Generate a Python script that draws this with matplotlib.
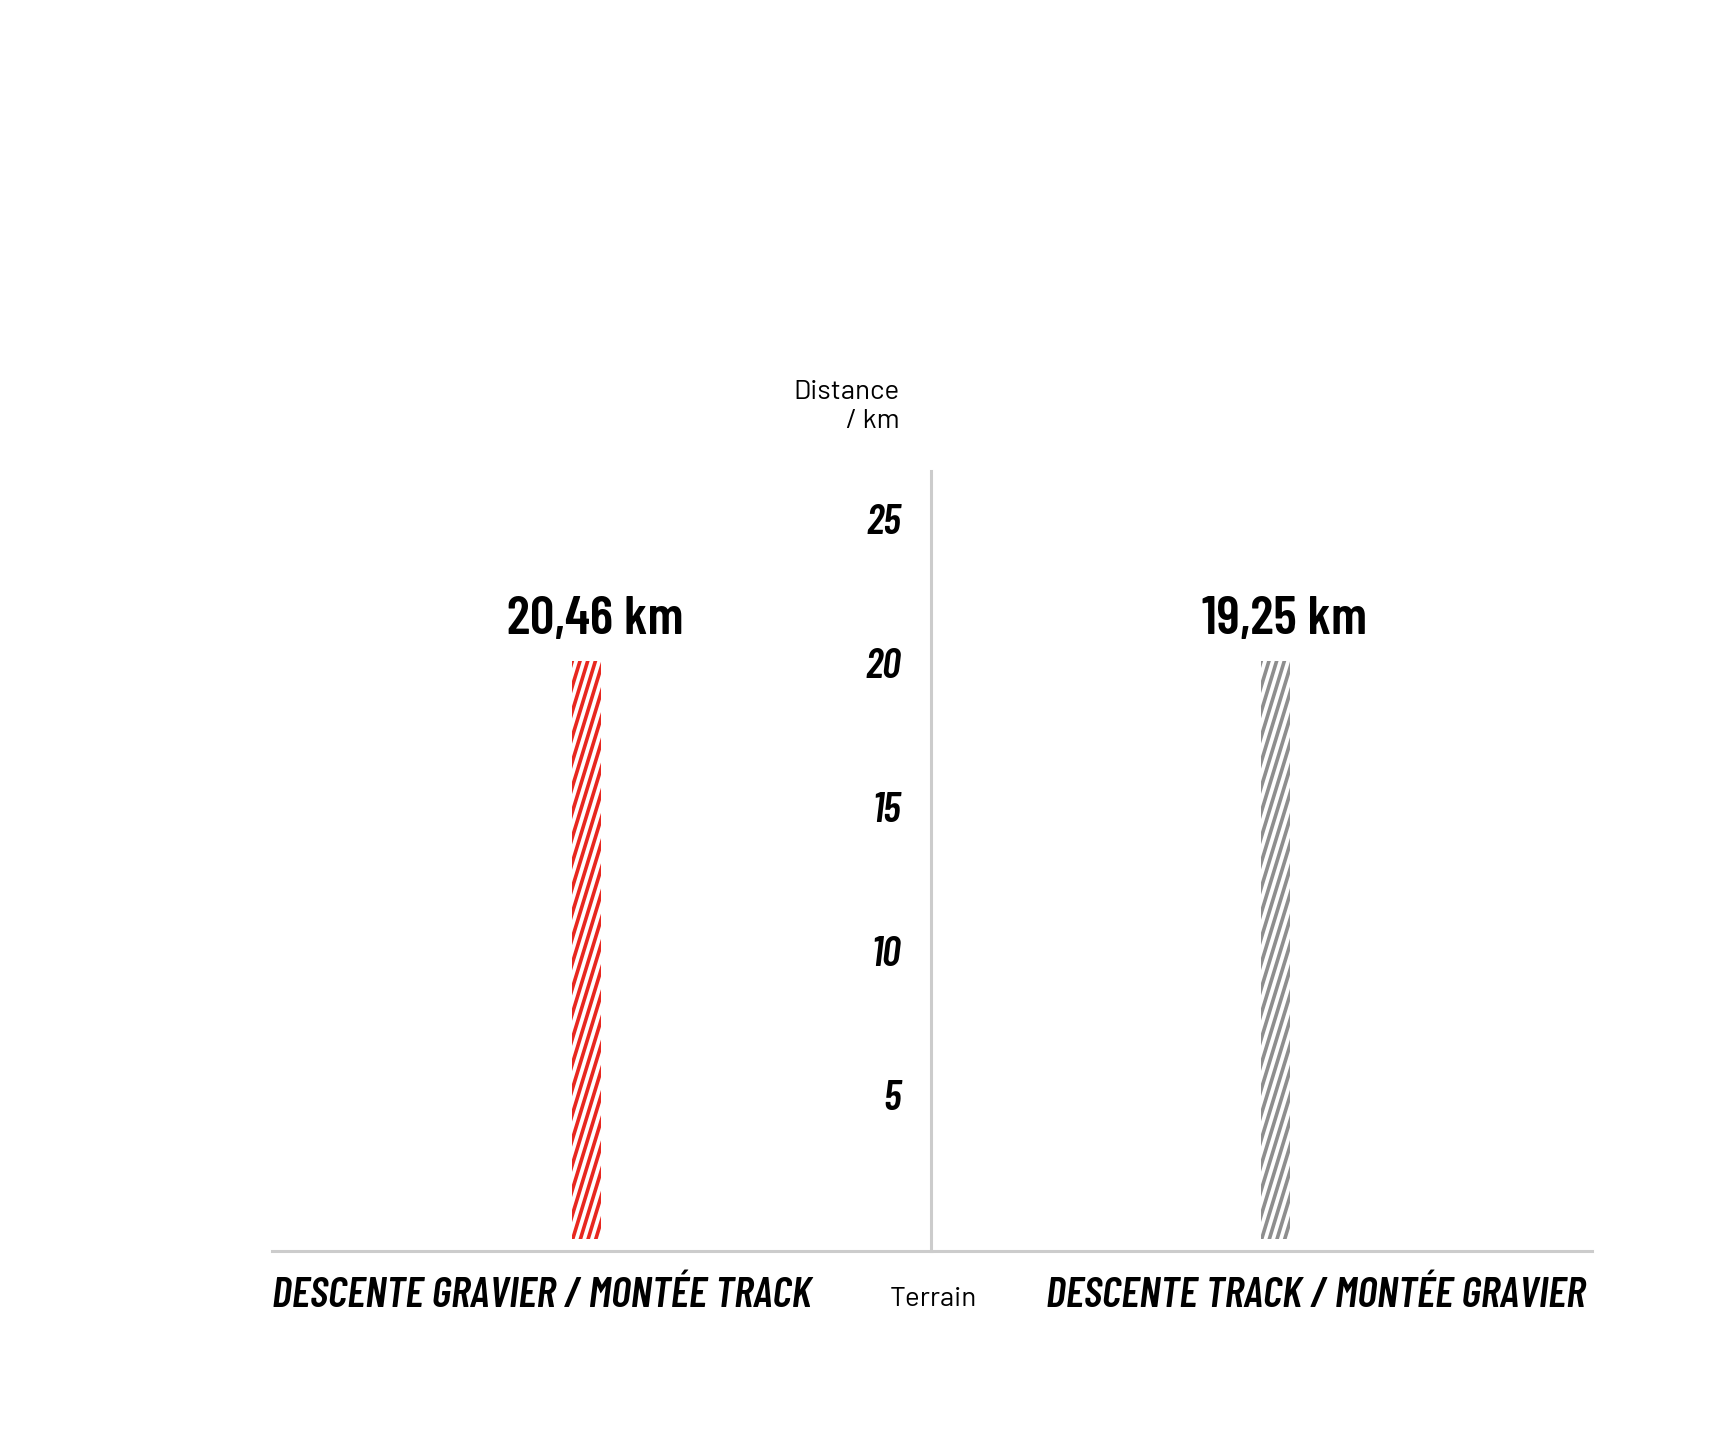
import numpy as np
import matplotlib
matplotlib.use("Agg")
import matplotlib.pyplot as plt
from matplotlib.lines import Line2D
from matplotlib.transforms import IdentityTransform

# data
categories = ["DESCENTE GRAVIER / MONTÉE TRACK", "DESCENTE TRACK / MONTÉE GRAVIER"]
distances_km = [20.46, 19.25]
# bar tops as drawn in the picture (both bars stop at about 20)
bar_heights = [20.07, 20.07]
bar_colors = ["#e8271f", "#8e8e8e"]
y_ticks = [5, 10, 15, 20, 25]

COND = ["Barlow Condensed", "Roboto Condensed", "Oswald", "DejaVu Sans"]
REG = ["Barlow", "Roboto", "DejaVu Sans"]
AXIS_GREY = "#cccccc"

fig = plt.figure(figsize=(17.14, 14.4), dpi=100)
ax = fig.add_axes([272 / 1714, (1440 - 1251) / 1440, 1320 / 1714, 780 / 1440])
ax.set_xlim(-0.457, 1.459)
ax.set_ylim(-0.42, 26.66)

x = np.arange(len(categories))
bars = ax.bar(x, bar_heights, width=0.042, color="white", edgecolor="none", zorder=2)

# steep diagonal stripes inside each bar, clipped to the bar
fig.canvas.draw()
slope = 1 / np.tan(np.radians(73))
period = 7.7
for bar, col in zip(bars, bar_colors):
    (x0, y0), (x1, y1) = ax.transData.transform(
        [(bar.get_x(), bar.get_y()), (bar.get_x() + bar.get_width(), bar.get_height())])
    h = y1 - y0
    for c in np.arange(x0 - slope * h - period, x1 + period, period):
        ln = Line2D([c, c + slope * h], [y0, y1], color=col, lw=2.6,
                    transform=IdentityTransform(), zorder=3)
        ln.set_clip_path(bar)
        fig.add_artist(ln)

# value labels
for xi, h, v in zip(x, bar_heights, distances_km):
    ax.annotate(f"{v:.2f}".replace(".", ",") + " km", (xi, h), xytext=(6, 19),
                textcoords="offset points", ha="center", va="baseline",
                fontsize=39, fontweight="semibold", family=COND)

# spines
for s in ["top", "right"]:
    ax.spines[s].set_visible(False)
ax.spines["left"].set_position(("data", 0.5))
for s in ["left", "bottom"]:
    ax.spines[s].set_color(AXIS_GREY)
    ax.spines[s].set_linewidth(2.2)

ax.set_xticks([])
ax.set_yticks(y_ticks)
ax.set_yticklabels([str(t) for t in y_ticks], fontsize=30, fontweight="semibold",
                   fontstyle="italic", family=COND)
ax.tick_params(axis="y", length=0, pad=22)

# category labels
ax.text(0, -0.0575, categories[0], transform=ax.transAxes, ha="left", va="center",
        fontsize=31, fontweight="semibold", fontstyle="italic", family=COND)
ax.text(0.995, -0.0575, categories[1], transform=ax.transAxes, ha="right", va="center",
        fontsize=31, fontweight="semibold", fontstyle="italic", family=COND)

ax.text(0.503, -0.062, "Terrain", transform=ax.get_xaxis_transform(), ha="center",
        va="center", fontsize=20, family=REG)
ax.text(0.4545, 1.083, "Distance\n/ km", transform=ax.get_xaxis_transform(),
        ha="right", va="center", multialignment="right", fontsize=20,
        linespacing=1.28, family=REG)

fig.savefig("out.png", dpi=100, facecolor="white")
